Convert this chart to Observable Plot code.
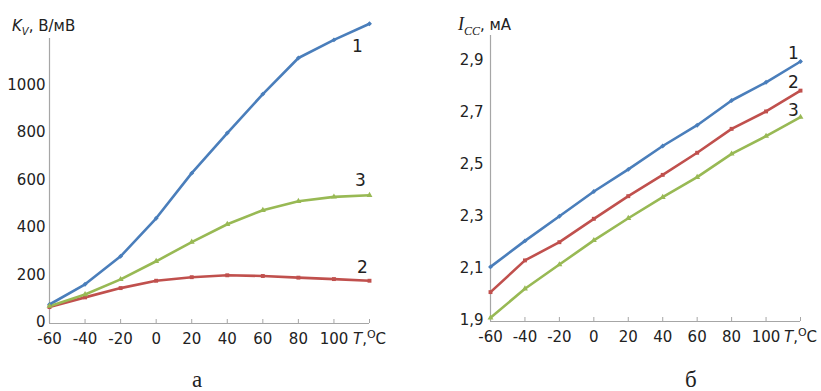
<!DOCTYPE html>
<html>
<head>
<meta charset="utf-8">
<script src="https://cdn.jsdelivr.net/npm/d3@7"></script>
<script src="https://cdn.jsdelivr.net/npm/@observablehq/plot@0.6"></script>
<style>
  body { margin: 0; background: #fff; }
  #wrap { position: relative; width: 821px; height: 391px; font-family: "DejaVu Sans", sans-serif; color: #222; }
  .panel { position: absolute; top: 0; }
  .ttl { position: absolute; font-size: 15px; white-space: nowrap; }
  .ttl i.sans { font-family: "DejaVu Sans", sans-serif; font-size: 15px; }
  .ttl i.serif { font-family: "Liberation Serif", serif; font-size: 18px; }
  .ttl sub { font-style: italic; font-size: 10px; }
  .ttl i.serif sub { font-family: "Liberation Serif", serif; font-size: 12px; }
  .cap { position: absolute; font-family: "Liberation Serif", serif; font-size: 23px; }
</style>
</head>
<body>
<div id="wrap">
  <div id="left" class="panel" style="left:0"></div>
  <div id="right" class="panel" style="left:410px"></div>
  <div class="ttl" style="left:12px; top:17px;"><i class="sans">K<sub>V</sub></i>, В/мВ</div>
  <div class="ttl" style="left:458px; top:14px;"><i class="serif">I<sub>CC</sub></i>, мА</div>
  <div class="cap" style="left:192px; top:367px;">а</div>
  <div class="cap" style="left:685px; top:367px;">б</div>
</div>
<script>
// Temperature, °C
const temps = [-60, -40, -20, 0, 20, 40, 60, 80, 100, 120];
const xTicks = [-60, -40, -20, 0, 20, 40, 60, 80, 100, 120];

// Panel а: K_V, V/mV
const kv1 = [80, 165, 283, 443, 633, 802, 966, 1118, 1194, 1262];
const kv2 = [69, 110, 149, 180, 195, 203, 200, 193, 187, 180];
const kv3 = [73, 122, 186, 262, 343, 418, 477, 515, 533, 540];
const kvTicks = [0, 200, 400, 600, 800, 1000];

// Panel б: I_CC, mA
const icc1 = [2.11, 2.21, 2.305, 2.40, 2.485, 2.575, 2.655, 2.75, 2.82, 2.90];
const icc2 = [2.013, 2.135, 2.205, 2.295, 2.382, 2.464, 2.549, 2.641, 2.708, 2.788];
const icc3 = [1.914, 2.026, 2.119, 2.212, 2.297, 2.378, 2.455, 2.545, 2.613, 2.686];
const iccTicks = [1.9, 2.1, 2.3, 2.5, 2.7, 2.9];

const seriesNames = ["1", "2", "3"];
const colors = {"1": "#4a7ebb", "2": "#c0504d", "3": "#98b954"};
const symbols = {"1": "diamond2", "2": "square", "3": "triangle"};

function toRows(arrs) {
  const rows = [];
  arrs.forEach((arr, i) => arr.forEach((v, j) => rows.push({s: seriesNames[i], t: temps[j], v})));
  return rows;
}

function makePanel(opts) {
  const rows = toRows(opts.series);
  const last = rows.filter(d => d.t === temps[temps.length - 1]);
  const plotH = opts.height - opts.mt - opts.mb;
  const tickLen = 4 * (opts.yDomain[1] - opts.yDomain[0]) / plotH;
  const marks = [
    Plot.ruleX([opts.xDomain[0]], {y1: opts.yDomain[0], y2: opts.yDomain[1], stroke: "#a6a6a6", strokeWidth: 1.2}),
    Plot.ruleY([opts.yDomain[0]], {x1: opts.xDomain[0], x2: opts.xDomain[1], stroke: "#a6a6a6", strokeWidth: 1.2}),
    Plot.ruleX(xTicks.slice(1), {y1: opts.yDomain[0], y2: opts.yDomain[0] + tickLen, stroke: "#a6a6a6"}),
    Plot.axisX({ticks: xTicks, tickSize: 0, tickPadding: 10, tickFormat: d => d === 120 ? "T,oC" : String(d), fontSize: 15, fill: "#222", label: null}),
    Plot.axisY({ticks: opts.yTicks, tickSize: 0, tickPadding: opts.yPad, tickFormat: opts.yFormat, fontSize: 15, fill: "#222", label: null, dy: -1}),
    Plot.line(rows, {x: "t", y: "v", z: "s", stroke: d => colors[d.s], strokeWidth: 2.6}),
    Plot.dot(rows, {x: "t", y: "v", symbol: d => symbols[d.s], fill: d => colors[d.s], r: 2.2, stroke: null}),
    ...seriesNames.map(s => Plot.text(last.filter(d => d.s === s), {
      x: "t", y: "v", text: "s", dx: opts.lab[s][0], dy: opts.lab[s][1], fontSize: 17, fill: "#222"
    }))
  ];
  const svg = Plot.plot({
    width: opts.width, height: opts.height,
    marginLeft: opts.ml, marginRight: opts.mr, marginTop: opts.mt, marginBottom: opts.mb,
    x: {domain: opts.xDomain, axis: null},
    y: {domain: opts.yDomain, axis: null},
    color: {type: "identity"},
    symbol: {type: "identity"},
    style: {fontFamily: "DejaVu Sans, sans-serif", fontSize: "15px", color: "#222", background: "transparent", overflow: "visible"},
    marks
  });
  // style the axis unit label "T,°C"
  d3.select(svg).selectAll("text").each(function() {
    if (this.textContent === "T,oC") {
      const t = d3.select(this);
      t.text("");
      t.append("tspan").attr("font-style", "italic").text("T");
      t.append("tspan").text(",");
      t.append("tspan").attr("dy", "-6").attr("font-size", "11").text("O");
      t.append("tspan").attr("dy", "6").text("C");
    }
  });
  return svg;
}

document.getElementById("left").appendChild(makePanel({
  series: [kv1, kv2, kv3],
  width: 410, height: 391, ml: 49, mr: 41, mt: 38, mb: 68,
  xDomain: [-60, 120], yDomain: [0, 1200], yTicks: kvTicks, yPad: 4,
  yFormat: d => String(d),
  lab: {"1": [-12, 23], "2": [-7, -13], "3": [-9, -15]}
}));

document.getElementById("right").appendChild(makePanel({
  series: [icc1, icc2, icc3],
  width: 411, height: 391, ml: 80, mr: 21, mt: 35, mb: 70,
  xDomain: [-60, 120], yDomain: [1.9, 3.0], yTicks: iccTicks, yPad: 7,
  yFormat: d => d.toFixed(1).replace(".", ","),
  lab: {"1": [-7, -8], "2": [-7, -8], "3": [-7, -7]}
}));
</script>
</body>
</html>
